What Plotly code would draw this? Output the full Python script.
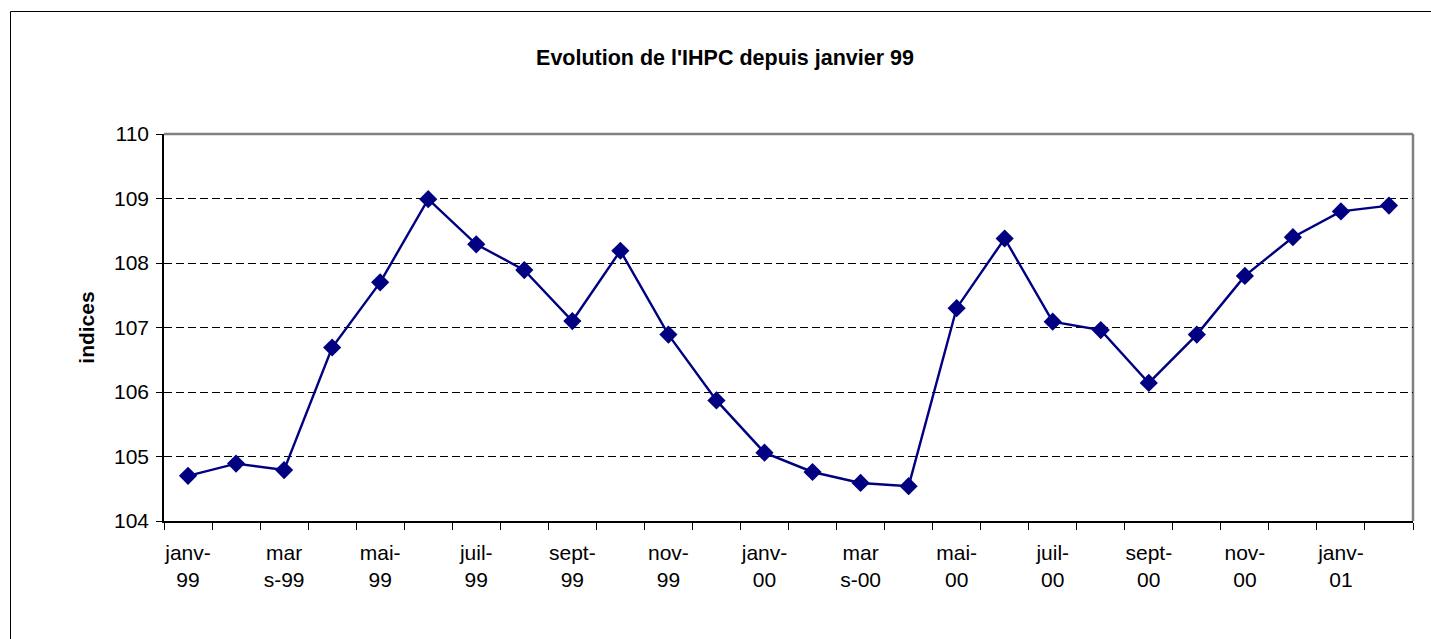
import plotly.graph_objects as go

months = ["janv-99", "févr-99", "mars-99", "avr-99", "mai-99", "juin-99", "juil-99", "août-99",
          "sept-99", "oct-99", "nov-99", "déc-99", "janv-00", "févr-00", "mars-00", "avr-00",
          "mai-00", "juin-00", "juil-00", "août-00", "sept-00", "oct-00", "nov-00", "déc-00",
          "janv-01", "févr-01"]
values = [104.70, 104.89, 104.79, 106.69, 107.70, 108.99, 108.29, 107.89, 107.10, 108.19,
          106.89, 105.87, 105.06, 104.76, 104.59, 104.54, 107.30, 108.38, 107.09, 106.96,
          106.14, 106.89, 107.80, 108.40, 108.80, 108.89]
tick_text = ["janv-<br>99", "", "mar<br>s-99", "", "mai-<br>99", "", "juil-<br>99", "",
             "sept-<br>99", "", "nov-<br>99", "", "janv-<br>00", "", "mar<br>s-00", "",
             "mai-<br>00", "", "juil-<br>00", "", "sept-<br>00", "", "nov-<br>00", "",
             "janv-<br>01", ""]
y_ticks = [104, 105, 106, 107, 108, 109, 110]

navy = "#000080"
font = "Liberation Sans, Arial, sans-serif"

fig = go.Figure()
fig.add_trace(go.Scatter(
    x=months, y=values, mode="lines+markers",
    line=dict(color=navy, width=2.4),
    marker=dict(symbol="diamond", size=14, color=navy),
    showlegend=False,
))

W, H = 1431, 639
ml, mr, mt, mb = 164, 1431 - 1413, 134, 639 - 521
pw, ph = W - ml - mr, H - mt - mb

fig.update_layout(
    width=W, height=H,
    margin=dict(l=ml, r=mr, t=mt, b=mb),
    paper_bgcolor="white", plot_bgcolor="white",
    font=dict(family=font, color="black", size=21),
    title=dict(text="<b>Evolution de l'IHPC depuis janvier 99</b>",
               x=725 / W, xanchor="center", y=1 - 57 / H, yanchor="middle",
               font=dict(size=21.5, family=font, color="black")),
    xaxis=dict(
        type="category", tickmode="array", tickvals=months, ticktext=tick_text,
        tickson="boundaries", ticks="outside", ticklen=7, tickcolor="black", tickwidth=1,
        showline=True, linecolor="black", linewidth=1.5, ticklabelstandoff=12,
        showgrid=False, tickangle=0, range=[-0.5, len(months) - 0.5],
        tickfont=dict(size=21, family=font, color="black"),
    ),
    yaxis=dict(
        range=[104, 110], tickvals=y_ticks, ticks="outside", ticklen=6,
        tickcolor="black", showline=True, linecolor="black", linewidth=1.5,
        ticklabelstandoff=3,
        showgrid=True, gridcolor="black", gridwidth=1, griddash="8px,4px",
        tickfont=dict(size=21, family=font, color="black"),
        title=dict(text="<b>indices</b>", standoff=14,
                   font=dict(size=21, family=font, color="black")),
        zeroline=False,
    ),
)

# gray top and right borders of the plot area
fig.add_shape(type="line", xref="paper", yref="paper", x0=0, x1=1, y0=1, y1=1,
              line=dict(color="#808080", width=2.5), layer="below")
fig.add_shape(type="line", xref="paper", yref="paper", x0=1, x1=1, y0=0, y1=1,
              line=dict(color="#808080", width=2.5), layer="below")
# outer chart frame (right/bottom edges beyond the visible canvas)
fig.add_shape(type="rect", xref="paper", yref="paper",
              x0=(10.5 - 164) / pw, x1=(1431 + 20 - 164) / pw,
              y0=-(639 + 20 - 521) / ph, y1=(521 - 11.5) / ph,
              line=dict(color="black", width=1), layer="below")

fig.write_html("out.html", config={"displayModeBar": False},
               post_script="document.body.style.margin='0';document.body.style.overflow='hidden';")
